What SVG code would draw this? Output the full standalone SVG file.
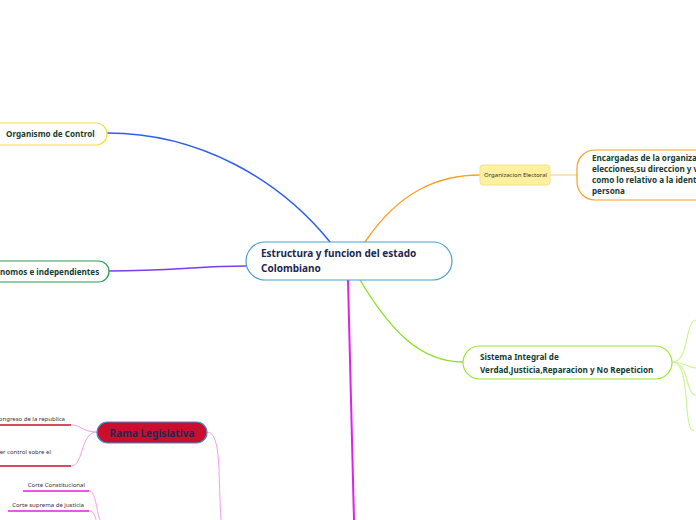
<svg xmlns="http://www.w3.org/2000/svg" width="696" height="520" viewBox="0 0 696 520">
<style>
text{font-family:"Noto Sans","Open Sans",sans-serif;}
.b{font-weight:bold;fill:#173d33;font-size:8.1px;}
.s{fill:#333;font-size:6px;}
.c{fill:none;stroke-linecap:round;}
</style>
<rect width="696" height="520" fill="#fff"/>
<g id="connectors">
<path class="c" d="M107,133 C200,133 280,180 330,242" stroke="#2f5ff0" stroke-width="1.6"/>
<path class="c" d="M109,271 C170,271 200,266 246,266" stroke="#7a3cf0" stroke-width="1.6"/>
<path class="c" d="M365,242 C400,190 440,175 480,175" stroke="#f9a020" stroke-width="1.4"/>
<path class="c" d="M550,175 L577,175" stroke="#fcd9a8" stroke-width="1.6"/>
<path class="c" d="M360,280 C390,330 420,362 463,362" stroke="#8ee02a" stroke-width="1.4"/>
<path class="c" d="M348,280 L354,520" stroke="#e020f0" stroke-width="2"/>
<g stroke="#ccf59a" stroke-width="1.2" fill="none">
<path d="M672,362 C690,362 684,322 696,320"/>
<path d="M672,362 C685,362 688,368 696,368"/>
<path d="M672,362 C690,362 685,395 696,395"/>
<path d="M672,362 C692,362 682,430 694,431"/>
</g>
<g stroke="#f49cf0" stroke-width="1" fill="none">
<path d="M97,432 C82,432 82,425 71,425"/>
<path d="M97,432 C80,432 84,466 71,466"/>
<path d="M207,432 C222,432 218,480 221,520"/>
<path d="M89,491 C96,491 96,510 100,520"/>
<path d="M89,511 C94,511 95,516 96,520"/>
</g>
<g stroke="#c8102e" stroke-width="1.6">
<path d="M0,425 L71,425"/>
<path d="M0,466 L71,466"/>
</g>
<g stroke="#e020e0" stroke-width="1.6">
<path d="M23,491 L89,491"/>
<path d="M8,511 L89,511"/>
</g>
</g>
<g id="central">
<rect x="246" y="242" width="206" height="38" rx="19" fill="#fff" stroke="#4a9fd8" stroke-width="1.2"/>
<text x="261" y="257" font-size="10" font-weight="bold" fill="#1d2951">Estructura y funcion del estado</text>
<text x="261" y="272" font-size="10" font-weight="bold" fill="#1d2951">Colombiano</text>
</g>
<g id="organismo-control">
<rect x="-20" y="123" width="127" height="22" rx="11" fill="#fff" stroke="#f5e03a" stroke-width="1.2"/>
<text class="b" x="6" y="137">Organismo de Control</text>
</g>
<g id="autonomos">
<rect x="-40" y="261" width="149" height="21" rx="10.5" fill="#fff" stroke="#22a050" stroke-width="1.2"/>
<text class="b" x="0" y="275">nomos e independientes</text>
</g>
<g id="organizacion-electoral">
<rect x="480" y="165" width="70" height="20" rx="3" fill="#fdf1a0" stroke="#f5e08a" stroke-width="1"/>
<text class="s" x="484" y="177">Organizacion Electoral</text>
</g>
<g id="encargadas">
<rect x="577" y="150" width="150" height="50" rx="18" fill="#fff" stroke="#f9a020" stroke-width="1.2"/>
<text class="b" x="592" y="161">Encargadas de la organiza</text>
<text class="b" x="592" y="172">elecciones,su direccion y v</text>
<text class="b" x="592" y="183">como lo relativo a la ident</text>
<text class="b" x="592" y="194">persona</text>
</g>
<g id="sistema-integral">
<rect x="463" y="346" width="209" height="33" rx="16.5" fill="#fff" stroke="#9be830" stroke-width="1.2"/>
<text class="b" x="480" y="360">Sistema Integral de</text>
<text class="b" x="480" y="373">Verdad,Justicia,Reparacion y No Repeticion</text>
</g>
<g id="rama-legislativa">
<rect x="97" y="422" width="110" height="21" rx="10.5" fill="#c8102e" stroke="#3a8fd0" stroke-width="1.2"/>
<text x="152" y="437" text-anchor="middle" font-size="10" font-weight="bold" fill="#1d2951">Rama Legislativa</text>
</g>
<g id="congreso">
<text class="s" x="65" y="421" text-anchor="end">Congreso de la republica</text>
</g>
<g id="control">
<text class="s" x="51" y="454" text-anchor="end">er control sobre el</text>
</g>
<g id="corte-constitucional">
<text class="s" x="85" y="487" text-anchor="end">Corte Constitucional</text>
</g>
<g id="corte-suprema">
<text class="s" x="84" y="507" text-anchor="end">Corte suprema de justicia</text>
</g>
</svg>
